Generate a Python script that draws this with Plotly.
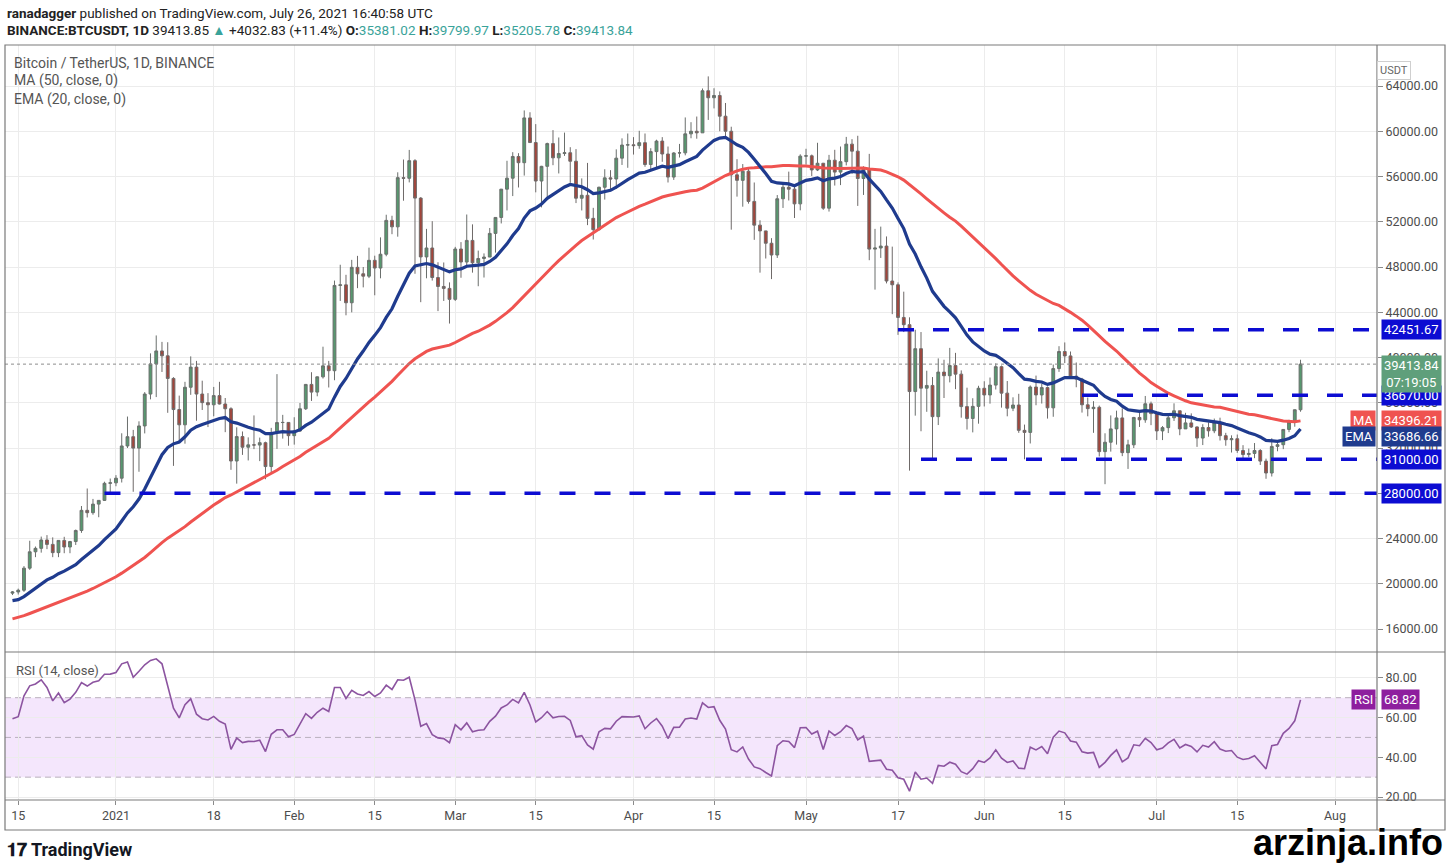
import pandas as pd
import plotly.graph_objects as go

FONT = "Roboto, sans-serif"

# BINANCE:BTCUSDT daily candles, 14 Dec 2020 - 26 Jul 2021
first_day = "2020-12-14"
last_day = "2021-07-26"

opens = [
    # Dec
    19170, 19273, 19427, 21380, 22825, 23130, 23870, 23480, 22750, 23830, 23250, 23730, 24710, 26490, 26280, 27040, 27370, 28880,
    # Jan
    28920, 29330, 32180, 33000, 31990, 33950, 36770, 39430, 40580, 40150, 38150, 35400, 34050, 37370, 39150, 36770, 36010, 35820,
    36630, 35890, 35470, 30850, 33010, 32070, 32280, 32260, 32470, 30360, 33360, 34250, 34260,
    # Feb
    33090, 33500, 35470, 37620, 36940, 38290, 39260, 38830, 46370, 46420, 44840, 47970, 47400, 47190, 48590, 47910, 49130, 52120,
    51550, 55900, 55840, 57400, 54090, 48890, 49680, 47070, 46280, 46110,
    # Mar
    45140, 49590, 48440, 50350, 48370, 48750, 48880, 50970, 52380, 54880, 55850, 57770, 57220, 61180, 59000, 55600, 56900, 58910,
    57650, 58030, 58100, 57350, 54080, 54340, 52300, 51300, 55050, 55880, 55780, 57620, 58780,
    # Apr
    58800, 58730, 58990, 57060, 58200, 59130, 57990, 55950, 58080, 58090, 59770, 60000, 59860, 63580, 62960, 63160, 61330, 60000,
    56150, 55660, 56470, 53800, 51700, 51190, 50100, 49060, 54030, 55050, 54880, 53580,
    # May
    57800, 57830, 56580, 57170, 53200, 57440, 56390, 57310, 58860, 58240, 55820, 56670, 49580, 49680, 49850, 46760, 46430, 43540,
    42900, 36990, 40780, 37290, 37530, 34770, 38710, 38390, 39290, 38530, 35660, 34610, 35680,
    # Jun
    37280, 36690, 37560, 39190, 36850, 35520, 35800, 33560, 33380, 37390, 36690, 37340, 35550, 39020, 40530, 40140, 38350, 38090,
    35820, 35480, 35600, 31680, 32510, 33690, 34660, 31590, 32280, 34700, 34490, 35910,
    # Jul
    35040, 33510, 33800, 34670, 35290, 33690, 34220, 33860, 32880, 33810, 33520, 34260, 33090, 32730, 32820, 31780, 31420, 31520,
    31780, 30840, 29790, 32140, 32290, 33640, 34290, 35381.02,
]

highs = [
    19350, 19570, 21560, 23800, 23290, 24170, 24300, 24100, 23840, 24150, 23790, 24790, 26870, 28420, 27500, 27400, 29020, 29300,
    29600, 33300, 34780, 33600, 34360, 36940, 40365, 41950, 41380, 41350, 38260, 36630, 37850, 40100, 39700, 37950, 36850, 37400,
    37850, 36420, 35600, 33830, 33460, 32940, 34880, 32920, 32560, 33780, 38530, 34930, 34290,
    34720, 35980, 37660, 38700, 38320, 40955, 39700, 46800, 48200, 47310, 48630, 48985, 48000, 49710, 49000, 50620, 52620, 52530,
    56370, 57500, 58350, 57530, 54180, 51370, 52050, 48420, 48400, 46640,
    49780, 50200, 52640, 51770, 49450, 49200, 51450, 52400, 54900, 57390, 58150, 58060, 61840, 61680, 60630, 56940, 58990, 60100,
    59450, 59880, 58590, 58420, 55830, 57200, 53230, 55100, 56640, 56560, 58400, 59370, 59800,
    59480, 60040, 59800, 58500, 59250, 59480, 58650, 58150, 58880, 61220, 60800, 61300, 63780, 64850, 63800, 63520, 62500, 60400,
    57530, 57100, 56760, 55470, 52130, 51200, 50550, 54360, 55480, 56430, 55200, 57960,
    58450, 57940, 58980, 57200, 57910, 58360, 58650, 59500, 59300, 59600, 56900, 58000, 51370, 51570, 50700, 49800, 46640, 45820,
    43550, 42450, 42250, 38830, 38270, 39920, 39800, 40850, 40410, 38860, 37330, 36400, 37500,
    37900, 38230, 39480, 39290, 37920, 36480, 36790, 34070, 37530, 38400, 37690, 37440, 39380, 41000, 41330, 40530, 39560, 38200,
    36460, 36140, 35750, 33300, 34880, 35300, 35500, 32730, 34750, 35300, 36600, 36100,
    35040, 33940, 34950, 35950, 35290, 35110, 35060, 33910, 34100, 34260, 34600, 34680, 33340, 33120, 33190, 32250, 31950, 32440,
    31900, 31060, 32860, 32580, 33650, 34500, 35400, 39799.97,
]

lows = [
    19000, 19050, 19280, 21230, 22350, 22750, 23060, 22350, 22350, 22700, 22700, 23430, 24500, 25860, 26100, 25880, 27320, 28000,
    28620, 28950, 32000, 28130, 29900, 33290, 36300, 36500, 38720, 35110, 30420, 32530, 32380, 36700, 34410, 35360, 33850, 34800,
    35850, 33400, 30070, 28850, 31390, 30900, 31900, 30840, 29240, 29800, 31920, 32830, 32200,
    32300, 33420, 35360, 36160, 36570, 38140, 37350, 37990, 45000, 43730, 43990, 46130, 46200, 47020, 45500, 47000, 48950, 50900,
    50680, 53860, 55480, 47400, 44890, 47000, 46800, 44100, 45000, 43000,
    45000, 47050, 48100, 47500, 46300, 47070, 48880, 49270, 51850, 53000, 54270, 55030, 56080, 58970, 54600, 53270, 54130, 57000,
    56270, 57820, 55450, 53650, 53000, 51700, 50430, 51230, 53960, 54700, 54900, 57020, 56770,
    57940, 58450, 56860, 56480, 56780, 57300, 55470, 55700, 57680, 57870, 59380, 59340, 59860, 61000, 62020, 60000, 59580, 51300,
    54220, 53330, 53600, 50400, 47500, 48750, 46930, 48800, 53220, 53880, 52330, 53010,
    57050, 56040, 56480, 53050, 52900, 55200, 55240, 56980, 56240, 53400, 54370, 48600, 46000, 48800, 46550, 43830, 42000, 42250,
    30000, 34860, 33480, 35200, 31110, 34030, 36420, 37800, 37200, 34680, 33630, 33380, 34150,
    35670, 35920, 37170, 35570, 34800, 35260, 33340, 31000, 32400, 35780, 35930, 34600, 34760, 38730, 39510, 38120, 37370, 35130,
    34800, 33340, 31250, 28800, 31680, 32300, 31280, 30150, 32000, 33860, 34230, 34020,
    32710, 32700, 33320, 34390, 33130, 33690, 33770, 32100, 32260, 33000, 33310, 32660, 32200, 31600, 31570, 31020, 31180, 31100,
    30500, 29280, 29480, 31710, 31900, 33400, 33880, 35205.78,
]

closes = [
    19273, 19427, 21380, 22825, 23130, 23870, 23480, 22750, 23830, 23250, 23730, 24710, 26490, 26280, 27040, 27370, 28880, 28920,
    29330, 32180, 33000, 31990, 33950, 36770, 39430, 40580, 40150, 38150, 35400, 34050, 37370, 39150, 36770, 36010, 35820, 36630,
    35890, 35470, 30850, 33010, 32070, 32280, 32260, 32470, 30360, 33360, 34250, 34260, 33090,
    33500, 35470, 37620, 36940, 38290, 39260, 38830, 46370, 46420, 44840, 47970, 47400, 47190, 48590, 47910, 49130, 52120, 51550,
    55900, 55840, 57400, 54090, 48890, 49680, 47070, 46280, 46110, 45140,
    49590, 48440, 50350, 48370, 48750, 48880, 50970, 52380, 54880, 55850, 57770, 57220, 61180, 59000, 55600, 56900, 58910, 57650,
    58030, 58100, 57350, 54080, 54340, 52300, 51300, 55050, 55880, 55780, 57620, 58780, 58800,
    58730, 58990, 57060, 58200, 59130, 57990, 55950, 58080, 58090, 59770, 60000, 59860, 63580, 62960, 63160, 61330, 60000, 56150,
    55660, 56470, 53800, 51700, 51190, 50100, 49060, 54030, 55050, 54880, 53580, 57800,
    57830, 56580, 57170, 53200, 57440, 56390, 57310, 58860, 58240, 55820, 56670, 49580, 49680, 49850, 46760, 46430, 43540, 42900,
    36990, 40780, 37290, 37530, 34770, 38710, 38390, 39290, 38530, 35660, 34610, 35680, 37280,
    36690, 37560, 39190, 36850, 35520, 35800, 33560, 33380, 37390, 36690, 37340, 35550, 39020, 40530, 40140, 38350, 38090, 35820,
    35480, 35600, 31680, 32510, 33690, 34660, 31590, 32280, 34700, 34490, 35910, 35040,
    33510, 33800, 34670, 35290, 33690, 34220, 33860, 32880, 33810, 33520, 34260, 33090, 32730, 32820, 31780, 31420, 31520, 31780,
    30840, 29790, 32140, 32290, 33640, 34290, 35381.02, 39413.84,
]

# closes of 26 Oct - 13 Dec 2020, only used so MA/EMA/RSI are warmed up at the left edge
warmup_closes = [
    13030, 13640, 13280, 13460, 13560, 13800,
    13760, 13550, 14030, 14150, 15590, 15590, 14840, 15480, 15330, 15310, 15700, 16280, 16320, 16070, 15960,
    16730, 17660, 17780, 17820, 18660, 18680, 18420, 18370, 19160, 18720, 17150, 17140, 17720, 18180, 19700,
    18770, 19200, 19420, 18650, 19150, 19360, 19170, 18320, 18550, 18250, 18030, 18800, 19170,
]

# horizontal support / resistance lines drawn by the author
levels = [42451.67, 36670.00, 31000.00, 28000.00]
level_starts = ["2021-05-17", "2021-06-18", "2021-05-21", "2020-12-30"]

price_ticks = list(range(16000, 64001, 4000))
rsi_ticks = [20, 40, 60, 80]
date_ticks = ["2020-12-15", "2021-01-01", "2021-01-18", "2021-02-01", "2021-02-15", "2021-03-01", "2021-03-15",
              "2021-04-01", "2021-04-15", "2021-05-01", "2021-05-17", "2021-06-01", "2021-06-15", "2021-07-01",
              "2021-07-15", "2021-08-01"]
date_labels = ["15", "2021", "18", "Feb", "15", "Mar", "15", "Apr", "15", "May", "17", "Jun", "15", "Jul", "15", "Aug"]

x_range = ["2020-12-12 16:48", "2021-08-08 07:12"]

dates = pd.date_range(first_day, last_day, freq="D")
n_warm = len(warmup_closes)

# indicators
all_close = pd.Series(warmup_closes + closes, dtype=float)
ma50 = all_close.rolling(50).mean().iloc[n_warm:].values
ema20 = all_close.ewm(span=20, adjust=False).mean().iloc[n_warm:].values
delta = all_close.diff().fillna(0)
up = delta.clip(lower=0).ewm(alpha=1 / 14, adjust=False).mean()
down = (-delta.clip(upper=0)).ewm(alpha=1 / 14, adjust=False).mean()
rsi = (100 - 100 / (1 + up / down)).iloc[n_warm:].values

GREEN = "#57986f"
RED = "#a3453b"
LEVEL = "#0c0cd2"
MA_COL = "#ef5350"
EMA_COL = "#1f3b8e"
RSI_COL = "#8c54a0"
GRID = "#ececec"
FRAME = "#7a7a7a"

fig = go.Figure()

fig.add_trace(go.Candlestick(
    x=dates, open=opens, high=highs, low=lows, close=closes,
    increasing=dict(fillcolor=GREEN, line=dict(color="#6a6f6c", width=1)),
    decreasing=dict(fillcolor=RED, line=dict(color="#6f6a69", width=1)),
    whiskerwidth=0, showlegend=False, xaxis="x", yaxis="y"))

fig.add_trace(go.Scatter(x=dates, y=ma50, mode="lines", line=dict(color=MA_COL, width=3),
                         showlegend=False, xaxis="x", yaxis="y"))
fig.add_trace(go.Scatter(x=dates, y=ema20, mode="lines", line=dict(color=EMA_COL, width=3.2),
                         showlegend=False, xaxis="x", yaxis="y"))

for lv, start in zip(levels, level_starts):
    fig.add_trace(go.Scatter(x=[start, x_range[1]], y=[lv, lv], mode="lines",
                             line=dict(color=LEVEL, width=3.5, dash="16px,19px"),
                             showlegend=False, xaxis="x", yaxis="y"))

fig.add_trace(go.Scatter(x=dates, y=rsi, mode="lines", line=dict(color=RSI_COL, width=1.6),
                         showlegend=False, xaxis="x2", yaxis="y2"))

# paper coordinates of the TradingView frame
SPLIT = 148 / 755
RIGHT = 1440 / 1372
BOTTOM = -30 / 755

shapes = [
    # RSI 30-70 band
    dict(type="rect", xref="paper", yref="y2", x0=0, x1=1, y0=30, y1=70,
         fillcolor="#f4e6fc", line=dict(width=0), layer="below"),
    # last price dotted line
    dict(type="line", xref="paper", yref="y", x0=0, x1=1, y0=closes[-1], y1=closes[-1],
         line=dict(color="#8c8c8c", width=1, dash="dot")),
    # frame
    dict(type="rect", xref="paper", yref="paper", x0=0, x1=RIGHT, y0=BOTTOM, y1=1,
         line=dict(color=FRAME, width=1.2)),
    dict(type="line", xref="paper", yref="paper", x0=1, x1=1, y0=BOTTOM, y1=1,
         line=dict(color=FRAME, width=1.2)),
    dict(type="line", xref="paper", yref="paper", x0=0, x1=RIGHT, y0=SPLIT, y1=SPLIT,
         line=dict(color=FRAME, width=1.2)),
    dict(type="line", xref="paper", yref="paper", x0=0, x1=RIGHT, y0=0, y1=0,
         line=dict(color=FRAME, width=1.2)),
]
for g in [70, 50, 30]:
    shapes.append(dict(type="line", xref="paper", yref="y2", x0=0, x1=1, y0=g, y1=g,
                       line=dict(color="#b9b0bd", width=1, dash="6px,4px"), layer="below"))


def side_label(text, y, color, yref="y", yshift=0, left=True, yanchor="middle"):
    return dict(x=1, xref="paper", y=y, yref=yref, text=text, showarrow=False,
                xanchor="left" if left else "right", yanchor=yanchor,
                xshift=4 if left else -1, yshift=yshift, bgcolor=color, borderpad=2,
                font=dict(color="white", size=13, family=FONT))


def paper_text(text, px, py, size=14, color="#555555", anchor="left"):
    return dict(x=(px - 5) / 1372, y=(800 - py) / 755, xref="paper", yref="paper", text=text,
                showarrow=False, xanchor=anchor, yanchor="middle",
                font=dict(size=size, color=color, family=FONT))


teal = "#3aa39a"
header2 = ("<b>BINANCE:BTCUSDT, 1D</b> 39413.85 <span style='color:%s'>▲</span> +4032.83 (+11.4%%) "
           "<b>O:</b><span style='color:%s'>35381.02</span> <b>H:</b><span style='color:%s'>39799.97</span> "
           "<b>L:</b><span style='color:%s'>35205.78</span> <b>C:</b><span style='color:%s'>39413.84</span>"
           % (teal, teal, teal, teal, teal))

annotations = [
    paper_text("<b>ranadagger</b> published on TradingView.com, July 26, 2021 16:40:58 UTC", 5, 13, 13.5, "#222222"),
    paper_text(header2, 5, 30, 13.5, "#222222"),
    paper_text("Bitcoin / TetherUS, 1D, BINANCE", 12, 63),
    paper_text("MA (50, close, 0)", 12, 81),
    paper_text("EMA (20, close, 0)", 12, 99),
    paper_text("RSI (14, close)", 14, 670, 13),
    paper_text("<b>𝟏𝟕 TradingView</b>", 5, 849, 18, "#131722"),
    dict(x=RIGHT, y=-65 / 755, xref="paper", yref="paper", text="<b>arzinja.info</b>",
         showarrow=False, xanchor="right", yanchor="bottom",
         font=dict(size=36, color="#000000", family="Liberation Sans, Arial, sans-serif")),
    dict(x=(1411 - 5) / 1372, y=(800 - 61) / 755, xref="paper", yref="paper", text="USDT",
         showarrow=False, bordercolor="#cfcfcf", borderwidth=1, borderpad=2,
         font=dict(size=11, color="#666666", family=FONT)),
    side_label("42451.67", levels[0], LEVEL),
    side_label("36670.00", levels[1], LEVEL),
    side_label("31000.00", levels[2], LEVEL),
    side_label("28000.00", levels[3], LEVEL),
    side_label("39413.84<br>07:19:05", closes[-1], "#5f9f7b", yanchor="top", yshift=9),
    side_label("34396.21", ma50[-1], MA_COL),
    side_label("MA", ma50[-1], MA_COL, left=False),
    side_label("33686.66", ema20[-1], EMA_COL, yshift=-8),
    side_label("EMA", ema20[-1], EMA_COL, left=False, yshift=-8),
    side_label("68.82", rsi[-1], "#8e1f9e", yref="y2"),
    side_label("RSI", rsi[-1], "#8e1f9e", yref="y2", left=False),
]

axis_font = dict(size=12.5, color="#4d4d4d", family=FONT)
fig.update_layout(
    width=1451, height=865,
    margin=dict(l=5, r=74, t=45, b=65),
    paper_bgcolor="white", plot_bgcolor="white",
    showlegend=False, hovermode=False,
    xaxis=dict(domain=[0, 1], anchor="y", type="date", range=x_range, rangeslider=dict(visible=False),
               tickvals=date_ticks, showticklabels=False, showgrid=True, gridcolor=GRID, zeroline=False),
    xaxis2=dict(domain=[0, 1], anchor="y2", type="date", range=x_range, matches="x",
                tickvals=date_ticks, ticktext=date_labels, showgrid=True, gridcolor=GRID,
                ticks="outside", ticklen=4, tickcolor="#8a8a8a", tickfont=axis_font, zeroline=False),
    yaxis=dict(domain=[SPLIT, 1], anchor="x", side="right", range=[13967, 67624],
               tickvals=price_ticks, ticktext=["%.2f" % t for t in price_ticks],
               showgrid=True, gridcolor=GRID, ticks="outside", ticklen=5, tickcolor="#8a8a8a",
               tickfont=axis_font, zeroline=False),
    yaxis2=dict(domain=[0, SPLIT], anchor="x2", side="right", range=[18.5, 93],
                tickvals=rsi_ticks, ticktext=["%.2f" % t for t in rsi_ticks],
                showgrid=True, gridcolor=GRID, ticks="outside", ticklen=5, tickcolor="#8a8a8a",
                tickfont=axis_font, zeroline=False),
    shapes=shapes,
    annotations=annotations,
)

# the page's default 8px body margin would push the 1451x865 figure off the window
fig.write_html("out.html", config={"displayModeBar": False},
               post_script="document.body.style.margin='0px';")
